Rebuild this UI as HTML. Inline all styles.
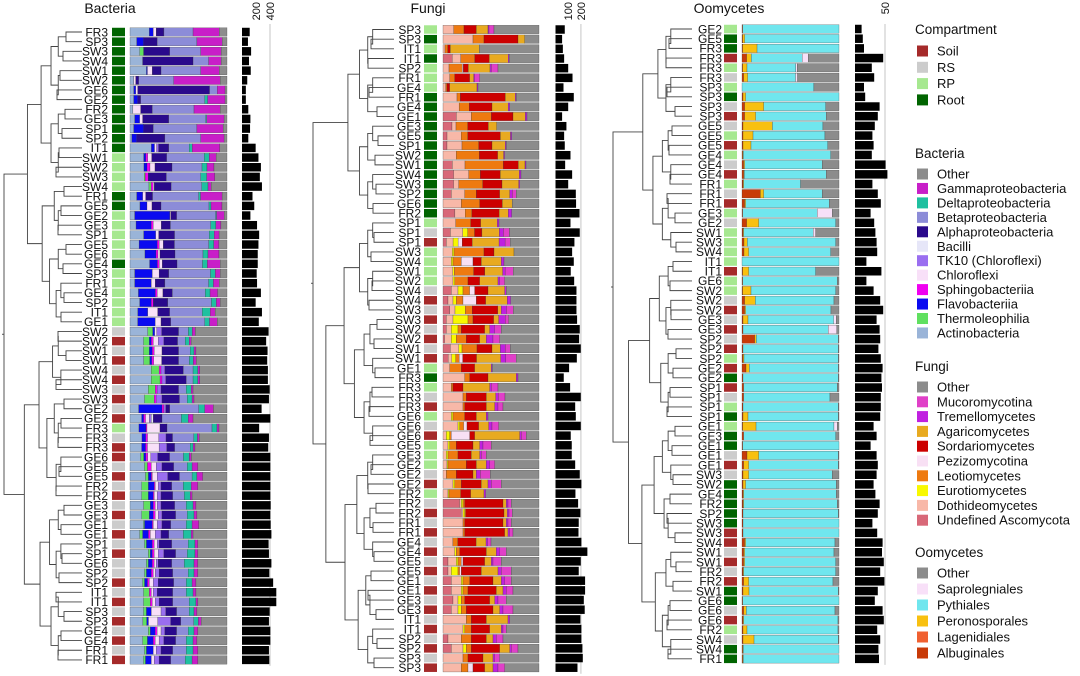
<!DOCTYPE html>
<html><head><meta charset="utf-8">
<style>
html,body{margin:0;padding:0;background:#fff;}
svg{display:block;font-family:"Liberation Sans",Arial,sans-serif;}
</style></head>
<body>
<svg id="fig" width="1080" height="676" viewBox="0 0 1080 676" xmlns="http://www.w3.org/2000/svg"></svg>
<script>
// ---------- DATA ----------
const compColors = {X:"#a52a2a", S:"#cccccc", P:"#a6e890", R:"#006400"};
const bacTaxa = ["Actinobacteria","Thermoleophilia","Flavobacteriia","Sphingobacteriia","Chloroflexi","TK10 (Chloroflexi)","Bacilli","Alphaproteobacteria","Betaproteobacteria","Deltaproteobacteria","Gammaproteobacteria","Other"];
const bacColors = ["#9ab4d8","#60e060","#0a0af0","#f000f0","#f8e0f8","#9a6ef0","#e6e6f8","#2a0a8c","#8c8cd8","#1fc0a0","#c81ec8","#8c8c8c"];
const bacLabels = ["FR3","SP3","SW3","SW4","SW1","SW2","GE6","GE2","FR2","GE3","SP1","SP2","IT1","SW1","SW2","SW3","SW4","FR1","GE5","GE2","GE3","SP1","GE5","GE6","GE4","SP3","FR1","GE4","SP2","IT1","GE1","SW2","SW2","SW1","SW1","SW4","SW4","SW3","SW3","GE2","GE2","FR3","FR3","FR3","GE6","GE5","GE5","FR2","FR2","GE3","GE3","GE1","GE1","SP1","SP1","GE6","SP2","SP2","IT1","IT1","SP3","SP3","GE4","GE4","FR1","FR1"];
const bacComp = "RRRRRRRRRRRRRPPPPRRPPPPPRPPPPPPSXSXSXSXSXPSXXSXSXSXSXSXSSXSXSXSXSX";
const bacValues = [
[20,0,4,0,3,0,0,8,30,0,27,8],[7,0,7,0,0,0,0,14,41,0,26,5],[10,4,0,0,0,0,0,27,32,0,21,6],[13,0,0,0,0,0,0,52,16,0,13,6],
[17,0,1,0,5,0,0,9,41,0,19,8],[4,0,0,0,2,0,0,3,36,0,48,7],[4,0,2,0,2,0,0,74,8,0,8,2],[4,0,4,0,0,0,0,3,66,3,18,2],
[3,0,0,0,8,0,0,12,43,0,27,7],[5,0,5,0,3,0,0,27,38,1,18,3],[4,0,10,0,0,0,0,10,45,0,27,4],[2,0,5,0,0,0,0,29,37,0,24,3],
[21,0,3,0,2,2,0,10,20,3,27,7],[14,0,2,2,4,0,0,15,38,5,7,11],[14,0,3,3,5,0,0,17,30,5,7,13],[14,1,0,3,0,0,0,18,34,6,8,12],
[18,2,0,2,1,0,0,16,29,6,3,15],[7,0,6,0,3,0,0,7,47,2,22,5],[10,0,7,0,5,0,0,9,48,2,11,5],[5,0,37,0,1,0,0,6,41,1,8,3],
[6,0,15,2,8,0,0,9,40,5,5,6],[14,0,12,0,3,0,0,16,35,5,5,8],[9,0,18,2,4,0,0,11,34,5,5,8],[15,0,11,2,2,0,0,15,28,5,11,8],
[20,0,8,2,3,0,0,15,26,5,13,7],[5,0,18,0,7,0,0,10,43,5,5,7],[5,0,17,0,4,0,0,10,45,5,6,8],[9,0,18,2,6,0,0,10,35,5,8,10],
[10,0,12,2,0,0,0,15,45,5,4,7],[8,0,10,0,10,0,0,12,33,8,5,12],[8,0,18,0,6,0,0,10,35,5,8,10],[18,5,2,0,2,5,0,17,10,4,3,32],
[14,6,2,2,5,6,0,14,8,4,2,37],[14,6,3,2,8,0,0,17,12,4,2,32],[14,6,2,2,8,0,0,17,11,4,3,31],[22,8,0,2,0,4,0,19,10,5,2,28],
[22,9,0,2,0,4,0,21,7,5,2,28],[19,7,0,2,0,4,0,18,8,5,2,35],[15,10,0,2,0,6,0,18,8,5,2,34],[9,0,24,2,0,2,0,4,30,6,9,14],
[12,0,2,2,4,2,2,9,20,7,5,35],[9,0,7,1,13,0,0,7,45,5,2,8],[13,0,4,2,12,8,0,7,23,4,2,30],[12,0,4,2,12,8,0,8,16,3,2,33],
[11,3,2,2,3,7,0,12,14,6,2,36],[15,3,0,4,5,6,0,12,14,5,6,30],[16,3,3,1,5,11,0,12,13,5,6,25],[12,7,6,1,3,3,0,11,12,8,7,30],
[12,7,5,1,3,4,0,12,12,6,2,36],[14,7,3,2,2,4,0,14,12,7,3,32],[12,8,4,2,3,4,0,14,12,7,3,31],[14,1,8,1,4,5,0,9,16,6,7,29],
[10,3,6,2,5,6,0,8,15,8,2,35],[15,2,6,2,3,2,0,13,17,7,3,30],[19,2,2,2,4,6,0,12,12,8,3,30],[17,2,4,2,2,2,0,14,13,10,4,30],
[15,2,5,2,2,4,0,14,16,6,4,30],[13,2,3,2,4,5,0,16,13,6,4,32],[14,6,0,2,2,4,0,16,14,7,3,32],[14,7,0,2,3,4,0,14,17,7,2,30],
[14,3,5,0,10,5,0,11,13,5,3,31],[14,4,2,0,10,14,0,11,14,5,3,28],[19,2,5,2,4,4,0,12,12,6,4,30],[13,5,6,2,4,5,0,12,11,7,4,31],
[15,2,7,0,3,5,0,12,14,7,5,30],[14,2,6,0,3,5,0,12,15,7,6,30]];
const bacCounts = [110,85,130,100,125,75,55,55,90,120,115,90,195,235,270,255,285,150,175,120,215,245,235,225,225,210,215,270,195,285,240,380,345,365,360,370,370,395,385,280,405,245,385,375,405,405,405,405,405,410,405,410,420,380,385,420,390,445,490,490,395,385,405,405,385,390];
const bacTicks = [200,400];

const funTaxa = ["Undefined Ascomycota","Dothideomycetes","Eurotiomycetes","Leotiomycetes","Pezizomycotina","Sordariomycetes","Agaricomycetes","Tremellomycetes","Mucoromycotina","Other"];
const funColors = ["#d86878","#f8b8a8","#f8f800","#ee7a10","#f8e0f4","#cc0000","#e8aa20","#c020e0","#e040c8","#8c8c8c"];
const funLabels = ["SP3","SP3","IT1","IT1","SP2","FR1","GE4","FR1","GE4","GE1","GE3","GE5","SP1","SW2","SW1","SW4","SW3","SP2","GE6","FR2","SP1","SP1","SP1","SW3","SW4","SW1","SW2","SW4","SW4","SW3","SW3","SW2","SW2","SW1","SW1","GE1","FR3","FR3","FR3","FR3","GE6","GE6","GE6","GE5","GE3","GE2","GE2","GE2","FR2","FR2","FR2","FR1","FR1","GE4","GE4","GE5","GE5","GE1","GE1","GE3","GE3","IT1","IT1","SP2","SP2","SP3","SP3"];
const funComp = "PRPRPPPRRRRRRRRRRRRRPSXPPPPSXSXSXSXPRPSXPSXPPPSXPSXSXSXSXSXSXSXSX" + "SX";
const funValues = [
[0,32,0,31,0,37,35,3,15,135],[0,90,0,33,0,102,20,0,0,43],[0,6,0,8,0,8,87,0,0,179],[27,25,0,41,0,42,55,3,0,87],
[0,18,0,40,3,15,65,4,20,123],[0,20,0,15,0,45,12,3,15,178],[0,8,0,4,0,8,82,3,0,183],[0,42,0,10,0,135,30,3,0,68],
[0,48,0,30,0,68,48,5,0,87],[40,45,0,60,0,65,37,5,0,36],[27,12,0,35,0,62,25,0,0,127],[12,42,0,20,0,97,30,4,0,81],
[12,45,0,50,0,40,40,3,0,98],[0,40,0,70,0,55,18,3,0,104],[28,38,0,115,0,45,20,3,0,39],[32,45,0,35,0,60,57,5,0,54],
[32,15,0,72,0,58,50,3,0,58],[25,40,0,35,0,70,30,8,12,68],[0,55,0,55,0,68,30,0,0,80],[35,30,0,20,0,80,27,10,0,80],
[0,38,0,45,0,30,50,5,0,120],[22,37,15,20,0,22,52,12,18,88],[10,20,15,0,12,30,80,18,15,86],[0,28,5,90,0,30,60,0,0,75],
[0,25,5,25,35,25,60,8,0,105],[0,30,5,60,0,35,55,8,25,80],[0,30,5,40,0,35,55,5,15,103],[25,20,15,20,15,40,50,5,0,98],
[15,15,10,20,40,28,65,10,0,85],[20,15,30,20,0,75,10,15,20,75],[10,20,45,15,0,62,15,20,10,91],[10,15,20,10,0,70,15,15,20,113],
[5,20,15,30,0,40,20,20,20,118],[22,25,10,45,0,45,25,15,15,86],[15,10,12,10,10,40,70,15,30,66],[0,20,0,35,0,40,50,3,0,140],
[0,65,0,15,0,55,85,5,0,63],[0,25,0,5,0,30,80,5,20,123],[0,60,0,10,0,60,28,8,20,102],[0,60,0,5,0,65,25,10,15,108],
[0,25,5,35,0,35,30,5,0,153],[0,45,5,12,10,35,30,10,20,121],[0,10,10,5,55,15,135,5,15,38],[0,15,5,20,0,50,20,10,25,143],
[0,10,5,30,0,40,25,5,15,158],[0,12,3,55,0,30,30,10,15,133],[0,10,0,30,0,50,10,12,30,146],[0,30,5,20,0,60,20,10,30,113],
[0,15,3,35,0,30,40,5,0,160],[50,5,5,5,0,115,10,5,10,83],[55,5,5,3,0,115,10,5,10,80],[0,60,0,5,0,115,10,5,10,83],
[0,60,0,5,0,120,10,5,10,78],[0,30,0,15,0,55,30,5,10,145],[0,35,5,10,0,80,30,10,20,98],[15,25,5,10,5,65,20,5,25,113],
[15,10,20,5,5,60,50,10,30,83],[25,30,5,20,0,70,25,10,20,83],[25,30,5,15,0,85,20,10,20,78],[30,15,10,10,0,75,15,10,25,98],
[25,20,10,15,0,80,20,10,30,78],[0,70,0,15,0,45,65,5,0,88],[0,60,5,20,0,55,35,5,10,98],[15,40,0,30,0,45,20,10,20,108],
[25,35,10,15,0,85,30,5,20,63],[0,60,0,15,0,45,30,5,15,118],[0,55,0,20,15,35,25,15,20,103]];
const funCounts = [73,52,58,68,100,134,63,144,100,52,86,68,73,118,76,131,100,160,162,189,118,191,149,131,144,120,147,165,165,165,170,191,186,199,168,107,65,115,199,155,160,199,120,128,128,155,191,204,157,178,196,183,181,204,251,199,183,233,233,223,230,196,204,204,212,215,173];
const funTicks = [100,200];

const oomTaxa = ["Albuginales","Lagenidiales","Peronosporales","Pythiales","Saprolegniales","Other"];
const oomColors = ["#c83a08","#f06030","#f8c010","#70e6ee","#f8e0f8","#8c8c8c"];
const oomLabels = ["GE2","GE5","FR3","FR3","FR3","FR3","SP3","SP3","SP3","SP3","GE5","GE5","GE5","GE4","GE4","GE4","FR1","FR1","FR1","GE3","GE2","SW1","SW3","SW4","IT1","IT1","GE6","SW2","SW2","SW2","GE3","GE3","SP2","SP2","SP2","GE2","GE2","SP1","SP1","SP1","SP1","GE1","GE3","GE1","GE1","GE1","SW3","SW2","GE4","FR2","SP2","SW3","SW3","SW4","SW1","SW1","FR2","FR2","SW1","GE6","GE6","GE6","FR2","SW4","SW4","FR1"];
const oomComp = "PRRXPSPRSXSPXPSXPSXPSPPPPXPPSXSXSXPXRXSPRPRRSXSRRRRRXXSXSXRRSXPSRR";
const oomValues = [
[2,0,0,288,0,0],[2,0,6,282,0,0],[2,0,43,245,0,0],[14,0,14,152,18,92],[2,0,13,146,4,125],[5,0,12,143,6,124],
[0,0,0,215,0,75],[3,0,8,279,0,0],[8,0,57,185,0,40],[8,0,33,211,0,38],[3,0,88,151,0,48],[3,0,30,215,0,42],
[3,0,24,229,0,34],[2,0,2,261,0,25],[5,0,3,232,0,50],[5,0,2,245,0,38],[3,0,2,170,0,115],[55,0,10,175,0,50],
[8,0,3,250,0,29],[2,0,0,223,45,20],[14,0,36,230,0,10],[3,0,2,208,7,70],[6,0,10,264,0,10],[6,0,14,245,0,25],
[0,0,0,290,0,0],[2,0,18,200,0,70],[2,0,0,283,0,5],[2,0,25,253,0,10],[8,0,32,235,0,15],[8,0,3,255,0,24],
[3,0,15,256,8,8],[3,0,0,255,25,7],[38,0,5,245,0,2],[3,0,0,285,0,2],[3,0,3,282,0,2],[12,0,10,266,0,2],
[3,0,0,285,0,2],[5,0,0,280,0,5],[5,0,0,258,0,27],[3,0,0,285,0,2],[3,0,15,270,0,2],[2,0,40,233,10,5],
[5,0,0,275,0,10],[2,0,0,288,0,0],[15,0,35,238,0,2],[5,0,15,268,0,2],[3,0,17,250,0,20],[3,0,8,271,0,8],
[3,0,2,277,0,8],[3,0,2,280,0,5],[3,0,0,285,0,2],[3,0,0,287,0,0],[3,0,0,287,0,0],[8,0,3,267,0,12],
[5,0,3,267,0,15],[5,0,3,272,0,10],[3,0,2,275,0,10],[5,0,15,252,0,18],[3,0,18,267,0,2],[2,0,0,288,0,0],
[5,0,8,265,0,12],[3,0,2,282,0,3],[3,0,12,272,0,3],[3,0,33,252,0,2],[2,0,2,286,0,0],[2,0,2,286,0,0]];
const oomCounts = [11,13,15,47,28,32,15,17,41,38,33,29,31,28,51,54,29,38,43,26,32,34,36,37,19,44,19,31,42,47,36,41,42,39,43,46,44,45,43,43,42,31,36,26,36,38,36,31,34,41,38,29,37,46,45,48,42,49,38,33,46,48,37,42,39,40];
const oomTicks = [50];

// ---------- DRAW ----------
const NS = "http://www.w3.org/2000/svg";
const svg = document.getElementById("fig");
function mk(tag, attrs, parent) {
  const e = document.createElementNS(NS, tag);
  for (const k in attrs) e.setAttribute(k, attrs[k]);
  (parent || svg).appendChild(e);
  return e;
}

function drawTree(g, n, y0, step, leafX, rootX, topSplit) {
  const inner = leafX - 16;
  const depthX = (size) => inner - (inner - rootX) * Math.pow((size - 2) / (n - 2), 0.6);
  function rec(lo, hi, forced) {
    if (hi - lo === 1) return {y: y0 + lo * step, x: leafX};
    const size = hi - lo;
    const x = depthX(size) - (size === 2 ? ((lo * 7) % 11) : 0);
    let mid = forced || (lo + Math.max(1, Math.round(size * (size % 3 === 0 ? 0.4 : 0.5))));
    const a = rec(lo, mid), b = rec(mid, hi);
    const ln = mk("path", {d: `M${a.x},${a.y}H${x}V${b.y}H${b.x}`, fill: "none", stroke: "#444", "stroke-width": 0.9}, g);
    
    
    return {y: (a.y + b.y) / 2, x: x};
  }
  const r = rec(0, n, topSplit);
  const l = mk("path", {d: `M${r.x},${r.y}H${rootX - 2}`, stroke: "#444", "stroke-width": 0.9}, g);
  
  
}

function panel(p) {
  const g = mk("g", {});
  
  
  const n = p.labels.length;
  const t = mk("text", {x: p.titleX, y: 13, "font-size": 14, "text-anchor": "middle", fill: "#111"}, g);
  t.textContent = p.title;
  
  
  drawTree(g, n, p.y0, p.step, p.leafX, p.rootX, p.topSplit);
  p.ticks.forEach(v => {
    const x = p.zero + v * p.scale;
    const tl = mk("text", {x: 0, y: 0, "font-size": 11, "text-anchor": "end", fill: "#111",
      transform: `translate(${x + 4},2) rotate(-90)`}, g);
    tl.textContent = v;
    
    
  });
  const last = p.ticks[p.ticks.length - 1];
  const gl = mk("line", {x1: p.zero + last * p.scale, x2: p.zero + last * p.scale, y1: 24, y2: p.y0 + (n - 1) * p.step + 6, stroke: "#cfcfcf", "stroke-width": 1.2}, g);
  
  
  const bh = p.step - 1.2;
  for (let i = 0; i < n; i++) {
    const y = p.y0 + i * p.step;
    const lb = mk("text", {x: p.labelX, y: y + 4.3, "font-size": 12, "text-anchor": "end", fill: "#111"}, g);
    lb.textContent = p.labels[i];
    
    
    const c = mk("rect", {x: p.compX, y: y - bh / 2, width: p.compW, height: bh, fill: compColors[p.comp[i]] || "#ffffff"}, g);
    
    
    const vals = p.values[i];
    const tot = vals.reduce((a, b) => a + b, 0);
    let x = p.barX;
    vals.forEach((v, k) => {
      if (v <= 0) return;
      const w = v / tot * p.barW;
      const s = mk("rect", {x: x, y: y - bh / 2, width: w, height: bh, fill: p.colors[k], stroke: "#333", "stroke-width": 0.25}, g);
      
      
      x += w;
    });
    const cb = mk("rect", {x: p.zero, y: y - bh / 2, width: p.counts[i] * p.scale, height: bh, fill: "#000"}, g);
    
    
  }
}

panel({name: "bacteria", title: "Bacteria", titleX: 110, labels: bacLabels, comp: bacComp, values: bacValues, colors: bacColors, counts: bacCounts, ticks: bacTicks,
  y0: 32, step: 9.66, leafX: 82, rootX: 4, topSplit: 31, labelX: 108, compX: 112, compW: 13, barX: 130, barW: 97, zero: 242, scale: 0.07});
panel({name: "fungi", title: "Fungi", titleX: 428, labels: funLabels, comp: funComp, values: funValues, colors: funColors, counts: funCounts, ticks: funTicks,
  y0: 29.5, step: 9.67, leafX: 394, rootX: 313, topSplit: 20, labelX: 421, compX: 424, compW: 13, barX: 443, barW: 96, zero: 555.5, scale: 0.127});
panel({name: "oomycetes", title: "Oomycetes", titleX: 729, labels: oomLabels, comp: oomComp, values: oomValues, colors: oomColors, counts: oomCounts, ticks: oomTicks,
  y0: 29, step: 9.69, leafX: 692, rootX: 613, topSplit: 24, labelX: 722, compX: 724, compW: 13, barX: 742, barW: 97, zero: 855, scale: 0.6});

// ---------- LEGEND ----------
const legendGroups = [
  {title: "Compartment", ty: 34, y0: 51, step: 16.3, items: ["Soil","RS","RP","Root"], colors: ["#a52a2a","#cccccc","#a6e890","#006400"]},
  {title: "Bacteria", ty: 158, y0: 174, step: 14.45, items: bacTaxa.slice().reverse(), colors: bacColors.slice().reverse()},
  {title: "Fungi", ty: 371, y0: 387, step: 14.8, items: funTaxa.slice().reverse(), colors: funColors.slice().reverse()},
  {title: "Oomycetes", ty: 557, y0: 573, step: 16, items: oomTaxa.slice().reverse(), colors: oomColors.slice().reverse()}
];
const lg = mk("g", {});


legendGroups.forEach(grp => {
  const tt = mk("text", {x: 915, y: grp.ty, "font-size": 13.5, fill: "#111"}, lg);
  tt.textContent = grp.title;
  
  
  grp.items.forEach((name, i) => {
    const y = grp.y0 + i * grp.step;
    const sw = mk("rect", {x: 917, y: y - 5.5, width: 11, height: 11, fill: grp.colors[i]}, lg);
    
    
    const tx = mk("text", {x: 937, y: y + 4.5, "font-size": 13, fill: "#111"}, lg);
    tx.textContent = name;
    
    
  });
});
</script>
</body></html>
